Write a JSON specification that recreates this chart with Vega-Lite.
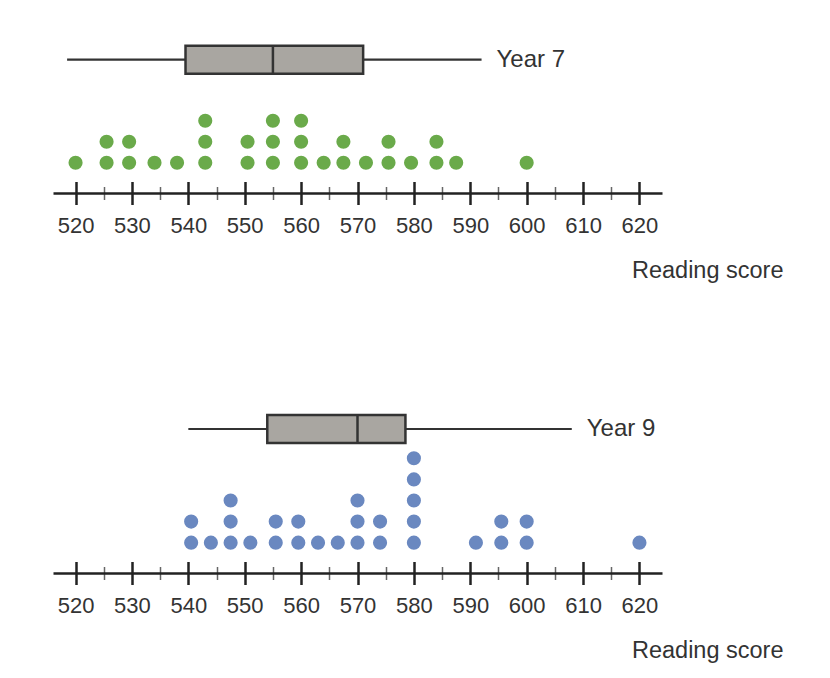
{
  "$schema": "https://vega.github.io/schema/vega-lite/v6.json",
  "background": "white",
  "padding": {"left": 53, "top": 40, "right": 5, "bottom": 5},
  "bounds": "flush",
  "spacing": 216,
  "config": {"view": {"stroke": null}, "font": "Liberation Sans"},
  "datasets": {
    "year7": [
      {"score": 520}, {"score": 525.5}, {"score": 525.5}, {"score": 529.5}, {"score": 529.5},
      {"score": 534}, {"score": 538}, {"score": 543}, {"score": 543}, {"score": 543},
      {"score": 550.5}, {"score": 550.5}, {"score": 555}, {"score": 555}, {"score": 555},
      {"score": 560}, {"score": 560}, {"score": 560}, {"score": 564}, {"score": 567.5},
      {"score": 567.5}, {"score": 571.5}, {"score": 575.5}, {"score": 575.5}, {"score": 579.5},
      {"score": 584}, {"score": 584}, {"score": 587.5}, {"score": 600}
    ],
    "year9": [
      {"score": 540.5}, {"score": 540.5}, {"score": 544}, {"score": 547.5}, {"score": 547.5},
      {"score": 547.5}, {"score": 551}, {"score": 555.5}, {"score": 555.5}, {"score": 559.5},
      {"score": 559.5}, {"score": 563}, {"score": 566.5}, {"score": 570}, {"score": 570},
      {"score": 570}, {"score": 574}, {"score": 574}, {"score": 580}, {"score": 580},
      {"score": 580}, {"score": 580}, {"score": 580}, {"score": 591}, {"score": 595.5},
      {"score": 595.5}, {"score": 600}, {"score": 600}, {"score": 620}
    ],
    "box7": [{"group": "Year 7", "min": 518.5, "q1": 539.5, "median": 555, "q3": 571, "max": 592}],
    "box9": [{"group": "Year 9", "min": 540, "q1": 554, "median": 570, "q3": 578.5, "max": 608}]
  },
  "vconcat": [
    {
      "width": 609,
      "height": 153,
      "resolve": {"axis": {"x": "independent"}},
      "layer": [
        {
          "data": {"name": "box7"},
          "mark": {"type": "rule", "stroke": "#333333", "strokeWidth": 2.2},
          "encoding": {
            "x": {
              "field": "min", "type": "quantitative",
              "scale": {"domain": [516, 624], "nice": false, "zero": false},
              "axis": {
                "orient": "top", "offset": -153,
                "values": [520, 525, 530, 535, 540, 545, 550, 555, 560, 565, 570, 575, 580, 585, 590, 595, 600, 605, 610, 615, 620],
                "domain": false, "labels": false, "title": null, "grid": false,
                "tickColor": {"condition": {"test": "datum.value % 10 === 0", "value": "#222222"}, "value": "#666666"},
                "tickWidth": {"condition": {"test": "datum.value % 10 === 0", "value": 2.5}, "value": 1.5},
                "tickSize": {"condition": {"test": "datum.value % 10 === 0", "value": 11.5}, "value": 6.5}
              }
            },
            "x2": {"field": "max"},
            "y": {"datum": 5.9, "type": "quantitative", "scale": {"domain": [-0.2, 6.6], "nice": false, "zero": false}, "axis": null}
          }
        },
        {
          "data": {"name": "box7"},
          "mark": {"type": "bar", "size": 28, "fill": "#a9a6a1", "stroke": "#333333", "strokeWidth": 2.5},
          "encoding": {
            "x": {"field": "q1", "type": "quantitative", "axis": null},
            "x2": {"field": "q3"},
            "y": {"datum": 5.9, "type": "quantitative", "axis": null}
          }
        },
        {
          "data": {"name": "box7"},
          "mark": {"type": "tick", "orient": "vertical", "size": 28, "thickness": 2.5, "color": "#333333", "opacity": 1},
          "encoding": {
            "x": {"field": "median", "type": "quantitative", "axis": null},
            "y": {"datum": 5.9, "type": "quantitative", "axis": null}
          }
        },
        {
          "data": {"name": "box7"},
          "mark": {"type": "text", "align": "left", "baseline": "middle", "dx": 15, "fontSize": 24, "color": "#333333", "font": "Liberation Sans"},
          "encoding": {
            "x": {"field": "max", "type": "quantitative", "axis": null},
            "y": {"datum": 5.9, "type": "quantitative", "axis": null},
            "text": {"field": "group"}
          }
        },
        {
          "data": {"name": "year7"},
          "transform": [{"window": [{"op": "row_number", "as": "level"}], "groupby": ["score"]}],
          "mark": {"type": "circle", "size": 200, "color": "#6aaa4a", "opacity": 1},
          "encoding": {
            "x": {
              "field": "score", "type": "quantitative",
              "axis": {
                "values": [520, 525, 530, 535, 540, 545, 550, 555, 560, 565, 570, 575, 580, 585, 590, 595, 600, 605, 610, 615, 620],
                "title": "Reading score",
                "grid": false,
                "domainColor": "#222222", "domainWidth": 2.5,
                "tickColor": {"condition": {"test": "datum.value % 10 === 0", "value": "#222222"}, "value": "#666666"},
                "tickWidth": {"condition": {"test": "datum.value % 10 === 0", "value": 2.5}, "value": 1.5},
                "tickSize": {"condition": {"test": "datum.value % 10 === 0", "value": 11.5}, "value": 6.5},
                "labelExpr": "datum.value % 10 === 0 ? datum.label : ''",
                "labelFontSize": 22, "labelColor": "#333333", "labelPadding": 11, "labelFont": "Liberation Sans",
                "labelFlush": false, "labelOverlap": false,
                "titleFontSize": 23.5, "titleFontWeight": "normal", "titleColor": "#333333", "titleFont": "Liberation Sans",
                "titleX": 730, "titleY": 84, "titleAlign": "right", "titleBaseline": "alphabetic"
              }
            },
            "y": {"field": "level", "type": "quantitative", "axis": null}
          }
        }
      ]
    },
    {
      "width": 609,
      "height": 164,
      "resolve": {"axis": {"x": "independent"}},
      "layer": [
        {
          "data": {"name": "box9"},
          "mark": {"type": "rule", "stroke": "#333333", "strokeWidth": 2.2},
          "encoding": {
            "x": {
              "field": "min", "type": "quantitative",
              "scale": {"domain": [516, 624], "nice": false, "zero": false},
              "axis": {
                "orient": "top", "offset": -164,
                "values": [520, 525, 530, 535, 540, 545, 550, 555, 560, 565, 570, 575, 580, 585, 590, 595, 600, 605, 610, 615, 620],
                "domain": false, "labels": false, "title": null, "grid": false,
                "tickColor": {"condition": {"test": "datum.value % 10 === 0", "value": "#222222"}, "value": "#666666"},
                "tickWidth": {"condition": {"test": "datum.value % 10 === 0", "value": 2.5}, "value": 1.5},
                "tickSize": {"condition": {"test": "datum.value % 10 === 0", "value": 11.5}, "value": 6.5}
              }
            },
            "x2": {"field": "max"},
            "y": {"datum": 6.39, "type": "quantitative", "scale": {"domain": [-0.2, 7.1], "nice": false, "zero": false}, "axis": null}
          }
        },
        {
          "data": {"name": "box9"},
          "mark": {"type": "bar", "size": 28, "fill": "#a9a6a1", "stroke": "#333333", "strokeWidth": 2.5},
          "encoding": {
            "x": {"field": "q1", "type": "quantitative", "axis": null},
            "x2": {"field": "q3"},
            "y": {"datum": 6.39, "type": "quantitative", "axis": null}
          }
        },
        {
          "data": {"name": "box9"},
          "mark": {"type": "tick", "orient": "vertical", "size": 28, "thickness": 2.5, "color": "#333333", "opacity": 1},
          "encoding": {
            "x": {"field": "median", "type": "quantitative", "axis": null},
            "y": {"datum": 6.39, "type": "quantitative", "axis": null}
          }
        },
        {
          "data": {"name": "box9"},
          "mark": {"type": "text", "align": "left", "baseline": "middle", "dx": 15, "fontSize": 24, "color": "#333333", "font": "Liberation Sans"},
          "encoding": {
            "x": {"field": "max", "type": "quantitative", "axis": null},
            "y": {"datum": 6.39, "type": "quantitative", "axis": null},
            "text": {"field": "group"}
          }
        },
        {
          "data": {"name": "year9"},
          "transform": [{"window": [{"op": "row_number", "as": "level"}], "groupby": ["score"]}],
          "mark": {"type": "circle", "size": 200, "color": "#6a88c0", "opacity": 1},
          "encoding": {
            "x": {
              "field": "score", "type": "quantitative",
              "axis": {
                "values": [520, 525, 530, 535, 540, 545, 550, 555, 560, 565, 570, 575, 580, 585, 590, 595, 600, 605, 610, 615, 620],
                "title": "Reading score",
                "grid": false,
                "domainColor": "#222222", "domainWidth": 2.5,
                "tickColor": {"condition": {"test": "datum.value % 10 === 0", "value": "#222222"}, "value": "#666666"},
                "tickWidth": {"condition": {"test": "datum.value % 10 === 0", "value": 2.5}, "value": 1.5},
                "tickSize": {"condition": {"test": "datum.value % 10 === 0", "value": 11.5}, "value": 6.5},
                "labelExpr": "datum.value % 10 === 0 ? datum.label : ''",
                "labelFontSize": 22, "labelColor": "#333333", "labelPadding": 11, "labelFont": "Liberation Sans",
                "labelFlush": false, "labelOverlap": false,
                "titleFontSize": 23.5, "titleFontWeight": "normal", "titleColor": "#333333", "titleFont": "Liberation Sans",
                "titleX": 730, "titleY": 84, "titleAlign": "right", "titleBaseline": "alphabetic"
              }
            },
            "y": {"field": "level", "type": "quantitative", "axis": null}
          }
        }
      ]
    }
  ]
}
